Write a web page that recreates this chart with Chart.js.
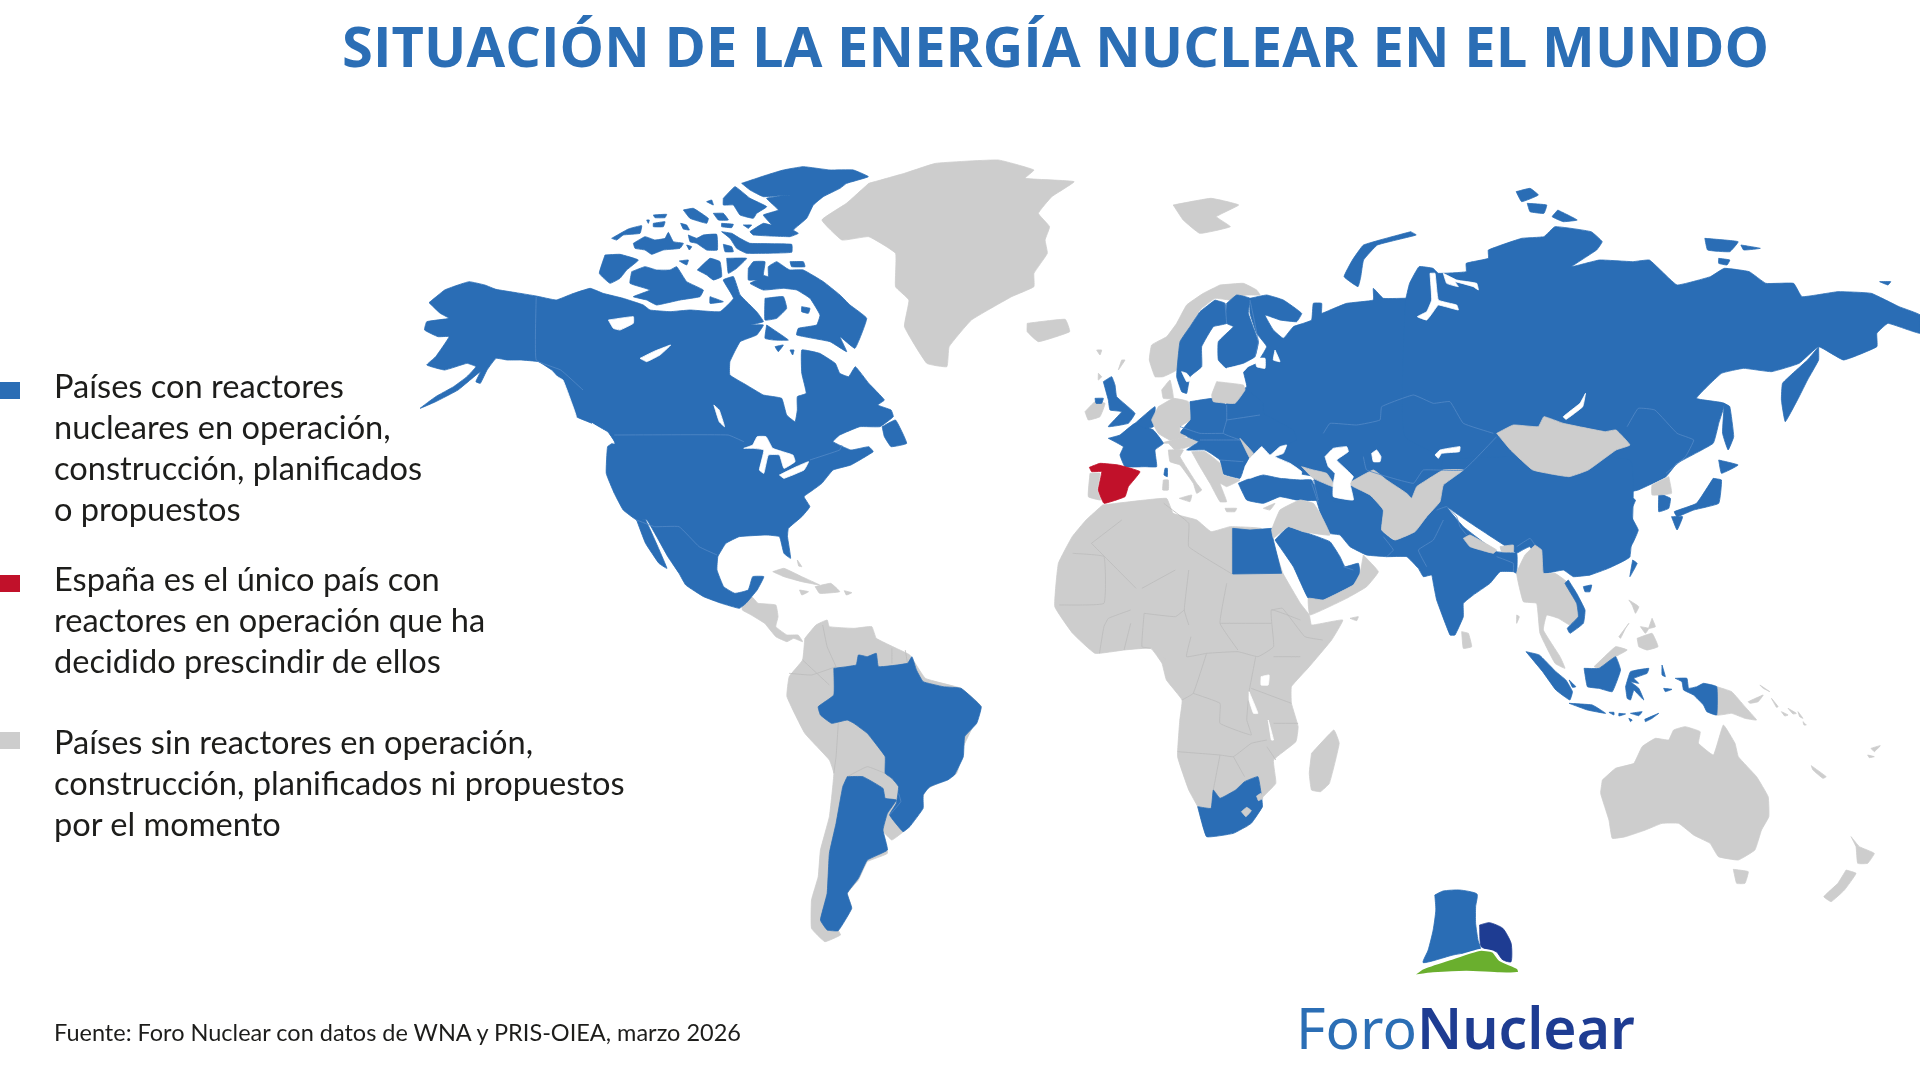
<!DOCTYPE html>
<html lang="es">
<head>
<meta charset="utf-8">
<title>Situación de la energía nuclear en el mundo</title>
<script src="https://cdn.jsdelivr.net/npm/chart.js@4"></script>
<style>
  html, body { margin: 0; background: #fff; }
  #page { position: relative; width: 1920px; height: 1080px; overflow: hidden; filter: blur(0.5px); }
  canvas { position: absolute; left: 0; top: 0; }
  .txt { position: absolute; white-space: nowrap; color: #1d1d1b; }
  h1 { position: absolute; margin: 0; left: 342px; top: 7px; font: 700 56px "Open Sans"; color: #2b6eb5; white-space: nowrap; letter-spacing: 0.08px; }
  .legend { left: 54px; font: 32.6px/41px Lato; }
  .swatch { position: absolute; left: 0; width: 20px; height: 17px; }
  #source { left: 54px; top: 1017px; font: 23.5px/30px Lato; }
  #logo { position: absolute; left: 1296px; top: 989px; font: 57px/76px "Noto Sans"; color: #2b6eb5; white-space: nowrap; }
  #logo b { color: #1e3c92; font-weight: 600; }
</style>
</head>
<body>
<div id="page">
  <canvas id="map" width="1920" height="1080"></canvas>
  <h1>SITUACIÓN DE LA ENERGÍA NUCLEAR EN EL MUNDO</h1>
  <div class="swatch" style="top:382px;background:#2a6db5"></div>
  <div class="txt legend" style="top:365px">Países con reactores<br>nucleares en operación,<br>construcción, planificados<br>o propuestos</div>
  <div class="swatch" style="top:575px;background:#c1112a"></div>
  <div class="txt legend" style="top:558px">España es el único país con<br>reactores en operación que ha<br>decidido prescindir de ellos</div>
  <div class="swatch" style="top:732px;background:#cdcdcd"></div>
  <div class="txt legend" style="top:721px">Países sin reactores en operación,<br>construcción, planificados ni propuestos<br>por el momento</div>
  <div class="txt" id="source">Fuente: Foro Nuclear con datos de WNA y PRIS-OIEA, marzo 2026</div>
  <div id="logo">Foro<b>Nuclear</b></div>
</div>
<script>
// outlines, flat x,y lists. each list is in the units of the crop it was read from

// north america crop
const northAmerica = [65,488,100,450,130,435,155,425,190,435,215,448,260,458,305,468,350,480,385,462,426,445,455,460,500,475,545,495,560,510,605,515,650,510,717,515,747,475,724,420,747,410,762,465,799,515,814,545,784,555,814,555,799,585,762,605,739,665,739,705,776,735,814,765,855,775,866,825,885,845,890,810,890,770,910,760,900,700,900,630,940,640,975,670,985,700,1005,710,1020,680,1050,730,1085,780,1070,795,1100,810,1105,830,1075,860,1030,860,985,885,970,905,1010,930,1050,920,1060,935,1010,975,970,990,945,1030,925,1050,905,1070,918,1100,900,1130,870,1165,868,1190,875,1255,860,1240,850,1190,820,1185,760,1190,730,1210,712,1250,710,1290,725,1340,750,1360,780,1350,790,1310,815,1310,800,1350,775,1390,760,1405,720,1390,680,1370,640,1335,625,1300,600,1250,575,1190,553,1140,530,1140,500,1110,480,1060,462,1000,465,920,480,905,465,875,430,850,395,830,380,790,360,720,340,690,310,665,270,660,240,660,215,655,195,690,180,730,170,725,180,695,130,750,80,785,45,805,80,770,120,740,150,710,170,680,150,670,100,690,60,675,80,650,110,590,85,590,55,570,60,545,110,535,90,520];
const baja = [530,1140,550,1140,598,1285,580,1270,550,1210];
const newfoundland = [1080,860,1110,840,1135,910,1100,920,1085,890];
const greenland = [1050,130,1130,100,1200,70,1340,60,1420,90,1400,115,1510,125,1460,170,1430,220,1455,260,1445,300,1450,340,1420,400,1420,440,1370,470,1280,540,1230,620,1225,680,1180,670,1130,560,1140,480,1110,440,1110,340,1050,290,990,300,945,240,1000,190];
const iceland = [1405,550,1490,538,1500,575,1430,605,1405,575];
const cuba = [835,1295,860,1285,900,1310,940,1335,900,1325,860,1310];
const hispaniola = [930,1340,965,1330,985,1355,940,1360];
const puertoRico = [995,1352,1012,1358,1000,1365];
const jamaica = [895,1350,915,1355,900,1365];
const bahamas = [890,1260,900,1280,893,1278];
const winnipeg = [703,795,715,810,727,860,715,845];
const upperLakes = [770,925,790,915,800,890,820,890,835,925,880,945,885,965,860,985,850,945,825,945,815,1000,805,990,815,930,790,925];
const lowerLakes = [850,1005,880,985,915,965,905,990,860,1015];
const bcChannel = [345,705,365,720,385,790,395,830,385,830,370,775,355,730];
const puget = [430,850,465,880,480,910,470,905,445,870];
const canadaUsaBorder = [480,885,735,885,770,905];
const alaskaBorder = [305,470,305,660,360,690,410,750];
const mexicoBorder = [530,1140,570,1160,625,1160,670,1220,710,1245];
const quebecBorder = [918,960,985,930,990,915];

// arctic crop
const ellesmere = [455,85,530,60,580,45,640,35,720,45,790,45,835,65,770,85,750,100,700,125,670,150,650,190,610,225,625,235,600,245,490,240,480,230,520,205,545,210,520,180,565,165,530,130,600,120,520,125,480,105];
const axelHeiberg = [400,130,435,95,480,130,530,155,500,175,490,190,450,180,430,150,400,150];
const amundRingnes = [280,165,310,160,355,190,350,205,300,190];
const ellefRingnes = [370,175,400,175,415,195,385,195];
const meighen = [350,140,365,135,370,150];
const grahamIsle = [395,205,430,208,425,218,395,215];
const coburg = [460,210,485,210,475,220];
const borden = [190,180,230,178,225,188,195,188];
const mackenzieKing = [190,205,225,200,220,215,190,215];
const brock = [170,195,178,195,175,205];
const lougheed = [272,205,290,210,298,225,280,222];
const melville = [130,265,165,245,195,255,225,250,235,232,250,260,280,265,270,280,220,285,185,298,165,285,135,280];
const patrick = [65,250,115,222,155,212,150,235,100,240,80,255];
const bathurst = [295,240,320,250,340,240,380,238,382,285,350,285,320,265,300,260];
const byam = [290,270,305,275,298,285];
const cornwallis = [400,268,425,275,430,290,405,290];
const devon = [395,230,425,235,450,250,480,265,605,268,605,292,470,295,440,280,420,250];
const banks = [45,300,90,298,145,315,110,345,90,370,60,385,28,355];
const victoria = [125,350,165,335,200,345,240,345,260,335,290,380,340,405,330,425,270,435,200,450,170,435,130,425,180,405,120,385];
const stefansson = [268,318,295,315,290,330];
const kingWilliam = [360,425,400,440,360,445];
const princeOfWales = [322,345,360,310,390,320,395,365,370,375,350,360];
const somerset = [410,310,470,310,440,340,415,355];
const baffin = [475,340,490,320,525,320,520,360,535,365,535,335,560,320,590,340,600,345,640,345,700,380,750,420,780,450,830,490,795,580,750,545,770,590,720,560,620,540,625,520,680,510,690,480,660,430,620,405,580,400,520,405,480,385,500,375,475,375];
const bylot = [600,320,640,320,645,335,605,335];
const foxeIsle = [635,455,660,460,655,475,635,470];
const melvillePen = [525,430,580,425,590,460,560,490,525,495];
const southampton = [530,510,595,555,550,555,525,550];
const coats = [555,575,580,570,565,590];
const mansel = [600,585,612,585,608,600];
const greatBear = [55,495,130,485,130,505,90,525,70,520];
const greatSlave = [150,610,190,590,242,570,210,600,170,620];

// south america and africa crop
const centralAmerica = [50,130,60,100,75,115,85,130,125,135,130,170,125,200,150,225,175,225,185,245,165,235,150,245,125,230,100,190,70,165,50,150];
const southAmerica = [190,235,215,195,240,180,245,200,300,205,340,200,350,235,395,265,425,285,460,355,540,385,585,440,545,560,530,640,460,690,450,740,415,810,385,840,365,815,375,880,330,905,310,960,285,1000,295,1045,265,1110,270,1125,235,1145,205,1105,205,1020,220,950,225,870,245,770,255,640,245,600,190,520,150,410,155,350,185,300];
const brazil = [255,325,305,315,310,285,330,290,350,280,355,320,420,310,430,290,440,330,455,365,500,380,540,385,585,440,575,490,548,530,545,590,525,645,510,660,470,680,455,705,455,745,425,800,410,815,380,765,395,730,400,680,385,655,370,640,370,590,345,545,330,520,300,490,285,480,250,490,225,465,220,440,255,405];
const argentina = [285,650,320,650,365,685,370,715,395,720,375,760,365,810,375,870,330,900,310,955,285,1000,295,1045,265,1112,240,1110,225,1080,240,1000,245,880,260,790,275,680];
const africa = [857,-165,1000,-185,1015,-140,1068,-120,1100,-85,1143,-100,1211,-95,1236,-60,1261,40,1300,130,1320,165,1325,195,1395,180,1370,240,1320,320,1280,380,1280,430,1295,500,1290,545,1240,600,1245,670,1210,720,1215,740,1180,800,1120,825,1090,825,1070,740,1050,690,1025,590,1030,480,1035,420,1000,360,990,310,965,265,905,270,840,280,790,220,750,140,758,10,789,-70,820,-120];
const southAfrica = [1070,740,1100,745,1105,690,1120,715,1155,690,1175,665,1205,650,1212,700,1215,740,1190,790,1150,820,1090,830];
const lesotho = [1168,755,1180,742,1190,752,1178,770];
const eswatini = [1202,708,1212,700,1216,715,1206,722];
const madagascar = [1325,580,1375,510,1387,550,1365,670,1345,695,1325,690,1320,640];
const lakeVictoria = [1212,350,1230,345,1228,375,1212,375];
const tanganyika = [1185,395,1205,460,1195,460,1185,420];
const malawi = [1228,480,1240,540,1235,540];
const bioko = [988,295,998,295,995,305];
const africaBorders = [
  [790,-20,860,-10,860,130,760,135], [945,85,1020,30], [1050,30,1040,150,1050,195], [1135,70,1120,190,1160,270],
  [950,160,1020,170,1040,150], [920,150,870,175,860,200,850,280], [920,190,905,270], [950,160,945,260,965,265],
  [1055,230,1045,290,1090,280,1160,275,1205,290,1240,260,1235,150,1300,180], [1235,150,1260,145,1310,230,1350,240],
  [1300,290,1240,290], [1120,190,1235,190], [1090,280,1060,400,1035,420], [1060,400,1120,430,1120,490,1190,525,1180,480,1185,395],
  [1200,290,1185,395], [1190,385,1280,430], [1025,575,1120,585,1150,590,1190,550,1225,540], [1120,585,1105,690],
  [1150,590,1175,650], [1240,490,1295,490], [1225,560,1245,600], [832,-50,900,-120], [832,-50,932,85],
  [994,-170,1050,-110,1050,-40,1147,42], [1147,-95,1147,42]
];
const andesBorders = [
  [260,320,205,345,155,340], [185,300,245,375], [230,195,240,260,260,320], [385,265,385,310], [415,270,420,310],
  [265,490,260,590,255,640], [285,650,330,620,370,640]
];
const argentinaBrazilLine = [400,700,405,725,380,765];

// asia crop
const russiaEast = [640,395,648,340,665,290,690,295,700,310,750,305,750,280,790,265,790,240,850,205,890,200,910,170,975,185,995,215,985,240,940,290,990,270,1050,275,1080,270,1100,300,1130,345,1190,320,1215,295,1260,305,1290,340,1340,340,1355,380,1420,365,1480,370,1530,410,1568,435,1568,490,1510,460,1490,490,1490,530,1430,570,1385,530,1350,580,1300,605,1250,595,1210,610,1165,685,1215,700,1205,760,1195,820,1130,880,1110,920,1060,960,1035,970,1055,990,1045,1030,1060,1080,1050,1120,1030,1175,1000,1190,970,1215,900,1000,640,800];
const novayaZemlya = [650,185,660,195,590,225,565,270,560,320,555,350,530,320,545,270,565,225];
const severnayaA = [840,65,865,55,880,75,850,95];
const severnayaB = [860,100,895,105,890,130,865,125];
const severnayaC = [915,120,950,150,925,155,905,140];
const newSiberiaA = [1180,205,1240,215,1225,245,1185,240];
const newSiberiaB = [1245,225,1280,235,1250,240];
const newSiberiaC = [1205,265,1225,270,1220,285,1205,280];
const wrangel = [1495,335,1515,335,1510,345];
const sakhalin = [1215,700,1225,710,1232,800,1222,840,1212,790];
const kamchatka = [1385,530,1385,570,1365,630,1350,680,1325,755,1318,690,1320,640,1345,600,1365,570];
const hokkaido = [1205,870,1240,885,1210,910];
const honshu = [1195,925,1210,930,1205,1000,1160,1020,1130,1040,1125,1025,1165,1000];
const kyushu = [1120,1040,1140,1040,1130,1080];
const southKorea = [1097,970,1118,985,1115,1015,1097,1025];
const taiwan = [1050,1170,1058,1180,1045,1220];
const svalbard = [222,105,290,85,340,105,300,140,325,170,270,190,240,150];
const mongolia = [805,790,835,765,880,770,890,740,925,760,1000,785,1020,780,1045,825,1020,840,970,900,935,920,870,900,830,840];
const northKorea = [1115,920,1085,945,1085,975,1120,970];
const baikal = [965,670,960,710,930,748,925,740,955,700];
const russiaBorder = [1040,770,1060,715,1090,720,1130,790,1160,810,1145,860,1110,910];

// europe crop
const russiaWest = [510,85,560,75,610,90,665,130,650,155,600,150,555,135,580,180,610,205,640,170,670,160,695,150,700,100,725,100,725,130,750,120,800,100,880,90,880,55,910,85,990,85,1010,100,1260,100,1260,700,720,700,700,620,650,610,480,550,430,500,440,400,500,350,490,300,530,280,560,230,530,190,510,130];
const sweden = [405,90,435,100,440,160,400,170,365,230,365,290,330,320,320,370,305,365,290,320,300,215,330,170,360,125];
const finland = [440,100,470,75,510,85,505,130,535,215,525,260,490,280,440,295,415,270,415,215,460,170,440,160];
const easternEurope = [330,395,400,385,445,405,500,360,550,400,550,430,640,480,650,510,600,530,560,540,510,560,490,600,480,625,430,612,420,570,375,540,320,540,355,515,300,490,330,450];
const france = [85,505,120,495,165,460,220,480,250,520,225,540,230,590,195,590,135,590,120,555,130,530];
const benelux = [165,460,225,410,220,470,195,475];
const corsica = [255,595,262,595,262,620,252,615];
const britain = [70,335,95,320,105,345,110,380,165,430,145,460,85,470,125,425,90,420,85,390];
const ulster = [45,385,70,385,65,400,48,400];
const turkey = [475,640,510,625,550,615,600,625,660,630,695,630,715,690,650,690,600,680,550,700,500,690];
const norway = [420,45,490,40,530,60,540,75,500,75,450,90,405,85,360,120,330,170,305,215,300,260,290,300,250,320,225,320,208,270,215,225,260,200,290,160,320,105,370,70];
const baltics = [410,335,490,345,495,360,465,400,400,395,395,375];
const germany = [235,410,280,385,325,395,330,450,300,470,300,490,320,500,270,510,235,490,215,450];
const denmark = [245,360,270,330,280,385,250,385];
const alps = [240,520,300,505,360,505,340,525,310,535,285,540,265,520];
const italy = [265,540,310,540,300,560,350,640,365,660,350,670,340,640,300,585,270,575];
const sicily = [298,685,335,675,330,695];
const sardinia = [250,630,265,630,265,660,248,660];
const balkans = [335,545,375,545,420,580,430,615,480,630,440,650,420,640,440,695,420,695,390,640,360,590];
const crete = [435,715,470,715,465,725,440,725];
const cyprus = [550,715,585,700,570,720];
const ireland = [15,425,45,395,75,400,60,440,25,450];
const shetland = [125,270,135,270,115,300];
const faroe = [50,240,65,240,60,255];
const hebrides = [55,310,65,320,55,330];
const moldova = [480,505,520,550,510,565];
const portugal = [30,610,60,610,52,660,62,690,25,680];
const caucasus = [665,590,700,600,740,610,760,640,760,650,745,645,700,625];
const spain = [28,592,60,580,115,585,180,605,145,650,135,680,72,700,55,660,65,605,35,605];
const caspian = [735,560,760,535,800,530,805,545,770,570,790,590,820,620,810,640,820,690,760,680,760,640,765,610,745,590];
const blackSea = [495,590,510,565,545,530,570,555,600,530,620,525,610,550,585,560,630,580,665,605,660,625,600,620,550,610,510,625,490,620];
const aral = [875,550,890,540,903,560,900,575,880,575];
const balkhash = [1065,555,1080,540,1140,530,1138,545,1085,550,1075,565];
const ladoga = [525,265,555,265,555,295,530,290];
const onega = [585,240,600,275,580,270];
const finnishGulf = [440,295,510,280,490,305,445,305];
const vanernLakes = [305,305,320,310,335,330,320,335];
const obGulf = [1050,10,1065,10,1075,90,1130,105,1135,120,1075,105,1060,125,1040,150,1012,140,1040,125,1055,90];
const yeniseiGulf = [1090,10,1130,30,1190,40,1195,60,1180,50,1125,35,1135,50,1100,40];
const europeBorders = [
  [730,490,750,460,830,465,900,450,905,410,1000,375,1060,400,1110,395,1150,460,1240,490], [850,560,860,600,1000,640,1030,600,1150,600,1250,500],
  [435,100,440,160], [510,90,535,215,525,260], [440,405,440,450,430,490,480,510], [440,450,540,435], [300,470,360,490,430,490],
  [360,510,420,510,480,510], [420,570,490,575], [700,630,715,690]
];

// south asia crop
const southAsia = [245,70,300,100,310,125,370,125,365,105,420,105,460,150,455,210,490,240,550,215,590,170,630,120,640,130,700,200,800,275,860,280,860,340,850,335,810,335,780,370,730,405,700,430,700,470,675,525,660,525,620,420,610,370,605,345,580,350,565,325,530,290,470,290,410,285,360,260,330,225,300,220,270,155];
const chinaSouth = [860,280,900,260,940,340,1000,330,1030,350,1080,345,1135,325,1200,290,1200,0,640,0,640,130];
const egypt = [8,205,60,210,125,205,130,240,155,340,8,342];
const saudiGulf = [135,240,175,200,220,215,300,245,330,290,345,320,385,310,390,345,370,375,280,420,235,415,190,320];
const omanYemen = [400,285,445,335,410,380,350,415,240,465,235,415,280,420,370,375,390,340];
const levantIraq = [130,235,125,210,150,150,210,120,250,130,270,160,300,225,220,215,175,200];
const centralAsiaGrey = [355,70,430,30,470,60,530,100,545,115,560,80,590,60,640,30,700,30,640,75,630,125,590,170,555,215,495,240,455,210,460,150,420,105,370,80];
const nepal = [700,235,720,225,800,270,790,280,720,260];
const bhutan = [810,260,850,255,850,275,815,275];
const indochina = [915,255,935,270,940,340,975,340,1010,365,1045,425,1050,470,1020,495,985,475,950,465,940,510,990,590,1005,625,975,610,930,520,920,430,880,425,860,340,885,285];
const vietnam = [1015,360,1040,400,1065,450,1060,490,1020,520,1012,505,1045,470,1040,430,1005,370];
const hainan = [1060,380,1085,375,1080,395,1065,395];
const sriLanka = [695,515,715,520,725,560,700,565];
const andaman = [860,465,868,470,860,490];
const socotra = [360,475,385,470,380,482];
const southAsiaBorders = [
  [620,150,650,140,680,170,690,200,710,225], [640,180,610,240,565,270,590,320], [460,230,490,270,470,290],
  [860,260,900,235,915,255], [800,290,850,310,850,335], [340,320,370,330], [245,70,265,130]
];

// oceania crop
const luzon = [690,0,720,20,710,40,700,15];
const mindanao = [715,115,760,100,778,140,745,150,720,140];
const visayasA = [725,80,750,85,740,100];
const visayasB = [760,55,770,80,750,85];
const palawan = [660,110,690,70,680,85,665,115];
const malaysianBorneo = [585,200,650,140,685,150,650,170,600,205];
const papua = [955,260,1000,275,1040,320,1075,360,1040,355,1000,340,955,345];
const newIreland = [1085,255,1115,275,1095,265];
const newBritain = [1050,305,1095,285,1080,305,1055,310];
const solomonA = [1120,295,1140,320,1135,322];
const solomonB = [1150,335,1170,345,1160,348];
const solomonC = [1170,325,1195,340,1185,342];
const solomonD = [1200,335,1215,355,1205,350];
const solomonE = [1215,365,1225,375,1218,375];
const australia = [610,540,650,505,705,490,730,440,770,415,810,420,825,390,860,380,905,395,900,430,945,465,975,375,1010,430,1020,470,1075,530,1110,590,1112,650,1090,690,1070,750,1020,780,960,770,935,730,905,715,885,705,840,670,790,670,740,690,680,710,640,715,630,660,605,580];
const tasmania = [1005,808,1050,815,1040,850,1015,850];
const nzNorth = [1360,710,1385,740,1430,760,1410,790,1380,790,1375,740];
const nzSouth = [1345,810,1375,820,1340,870,1300,905,1278,890,1320,850];
const newCaledonia = [1240,497,1285,530,1275,535,1245,510];
const fijiA = [1420,445,1448,437,1430,455];
const fijiB = [1410,465,1430,470,1415,473];
const sumatra = [380,155,420,165,470,215,500,240,520,275,512,300,470,270,430,215];
const bangka = [510,240,530,260,520,262];
const kalimantan = [555,205,600,205,650,170,665,210,640,275,600,265,565,260];
const java = [510,310,580,315,620,340,565,330];
const sundaA = [630,337,645,337,645,345];
const sundaB = [660,340,680,342,660,348];
const sundaC = [695,340,730,335,720,347];
const sundaD = [690,355,700,360,695,365];
const timor = [738,358,780,340,760,355,740,365];
const sulawesi = [680,260,695,215,750,205,745,220,705,235,720,250,695,245,720,265,735,300,715,280,705,270,695,300,685,295];
const moluccaA = [790,195,800,230,790,225];
const moluccaB = [795,265,820,268,800,275];
const westPapua = [830,235,865,235,870,265,895,260,915,250,955,260,955,345,925,335,915,315,885,285,855,270,850,245];
const logoTower = [105,885,130,873,180,870,232,882,228,920,228,970,235,1020,242,1048,160,1065,70,1088,85,1050,100,990,108,930];
const logoReactor = [240,975,270,968,310,985,335,1030,335,1085,310,1080,290,1055,245,1040];
const logoHill = [37,1128,70,1105,150,1078,240,1050,280,1055,300,1080,355,1105,358,1118,300,1120,200,1115,100,1120];

const BLUE = '#2a6db5', RED = '#c1112a', GREY = '#cdcdcd', WHITE = '#ffffff';
const BLUE_LINE = '#5389c6', GREY_LINE = '#bbbbbb';

// crops of the picture the outlines were read from: origin and stretch
const cropNA = { ox: 400, oy: 140, sx: 2.24, sy: 3 };
const cropArctic = { ox: 590, oy: 155, sx: 3, sy: 3 };
const cropAsia = { ox: 1050, oy: 170, sx: 1.802, sy: 3 };
const cropEurope = { ox: 1080, oy: 270, sx: 3, sy: 3 };
const cropSouthAsia = { ox: 1230, oy: 460, sx: 3, sy: 3 };
const cropSA = { ox: 720, oy: 560, sx: 2.24, sy: 3 };
const cropOC = { ox: 1400, oy: 600, sx: 3.015, sy: 3 };

function toPoints(list, crop) {
  const pts = [];
  for (let i = 0; i < list.length; i += 2) {
    pts.push({ x: crop.ox + list[i] / crop.sx, y: crop.oy + list[i + 1] / crop.sy });
  }
  return pts;
}

const datasets = [];

function addShapes(lists, crop, color, tension = 0.1) {
  lists.forEach(list => {
    const pts = toPoints(list, crop);
    pts.push(pts[0]);
    datasets.push({ data: pts, showLine: true, fill: 'shape', backgroundColor: color, borderColor: color, borderWidth: 0.8, pointRadius: 0, tension });
  });
}

function addLines(lists, crop, color) {
  lists.forEach(list => {
    datasets.push({ data: toPoints(list, crop), showLine: true, fill: false, borderColor: color, borderWidth: 0.8, pointRadius: 0, tension: 0.1 });
  });
}

addShapes([greenland, iceland, cuba, hispaniola, puertoRico, jamaica, bahamas], cropNA, GREY);
addShapes([centralAmerica, southAmerica, africa, madagascar, bioko], cropSA, GREY);
addShapes([northAmerica, baja, newfoundland], cropNA, BLUE);
addShapes([ellesmere, axelHeiberg, amundRingnes, ellefRingnes, meighen, grahamIsle, coburg, borden, mackenzieKing, brock, lougheed, melville, patrick, bathurst, byam, cornwallis, devon, banks, victoria, stefansson, kingWilliam, princeOfWales, somerset, baffin, bylot, melvillePen, southampton, coats, mansel], cropArctic, BLUE);
addShapes([foxeIsle], cropArctic, BLUE);
addShapes([greatBear, greatSlave], cropArctic, WHITE);
addShapes([winnipeg, upperLakes, lowerLakes, bcChannel, puget], cropNA, WHITE);
addLines([canadaUsaBorder, alaskaBorder, mexicoBorder, quebecBorder], cropNA, BLUE_LINE);
addLines(africaBorders, cropSA, GREY_LINE);
addLines(andesBorders, cropSA, GREY_LINE);
addShapes([brazil, argentina, southAfrica], cropSA, BLUE);
addShapes([lesotho, eswatini], cropSA, GREY);
addShapes([lakeVictoria, tanganyika, malawi], cropSA, WHITE);
addLines([argentinaBrazilLine], cropSA, BLUE_LINE);

// eurasia: blue land first, then the grey countries and the inland waters on top
addShapes([norway, denmark, alps, italy, sicily, sardinia, crete, cyprus, ireland, shetland, faroe, hebrides, portugal], cropEurope, GREY);
addShapes([russiaWest, sweden, finland, easternEurope, france, benelux, corsica, britain, ulster, turkey], cropEurope, BLUE);
addShapes([svalbard], cropAsia, GREY);
addShapes([russiaEast, novayaZemlya, severnayaA, severnayaB, severnayaC, newSiberiaA, newSiberiaB, newSiberiaC, wrangel, sakhalin, kamchatka, hokkaido, honshu, kyushu, southKorea, taiwan], cropAsia, BLUE);
addShapes([chinaSouth, southAsia], cropSouthAsia, BLUE);
addShapes([egypt], cropSouthAsia, BLUE, 0);
addShapes([saudiGulf, hainan], cropSouthAsia, BLUE);
addShapes([germany, baltics, moldova, caucasus, balkans], cropEurope, GREY);
addShapes([omanYemen, levantIraq, centralAsiaGrey, nepal, bhutan, indochina, sriLanka, andaman, socotra], cropSouthAsia, GREY);
addShapes([vietnam], cropSouthAsia, BLUE);
addShapes([mongolia, northKorea], cropAsia, GREY);
addShapes([spain], cropEurope, RED);
addShapes([caspian, blackSea, aral, balkhash, ladoga, onega, finnishGulf, vanernLakes, obGulf, yeniseiGulf], cropEurope, WHITE);
addShapes([baikal], cropAsia, WHITE);
addLines(europeBorders, cropEurope, BLUE_LINE);
addLines(southAsiaBorders, cropSouthAsia, BLUE_LINE);
addLines([russiaBorder], cropAsia, BLUE_LINE);

addShapes([luzon, mindanao, visayasA, visayasB, palawan, malaysianBorneo, papua, newIreland, newBritain, solomonA, solomonB, solomonC, solomonD, solomonE, australia, tasmania, nzNorth, nzSouth, newCaledonia, fijiA, fijiB], cropOC, GREY);
addShapes([sumatra, bangka, kalimantan, java, sundaA, sundaB, sundaC, sundaD, timor, sulawesi, moluccaA, moluccaB, westPapua], cropOC, BLUE);

addShapes([logoTower], cropOC, BLUE, 0.2);
addShapes([logoReactor], cropOC, '#1e3c92', 0.2);
addShapes([logoHill], cropOC, '#6aaf2e', 0.2);
// thin white edge between the hill and the towers
datasets[datasets.length - 1].borderColor = WHITE;
datasets[datasets.length - 1].borderWidth = 2;

// chart.js paints the first dataset last, the list above is in paint order
datasets.reverse();

new Chart(document.getElementById('map'), {
  type: 'scatter',
  data: { datasets },
  options: {
    responsive: false,
    animation: false,
    events: [],
    layout: { padding: 0 },
    plugins: { legend: { display: false }, tooltip: { enabled: false } },
    scales: {
      x: { type: 'linear', min: 0, max: 1920, display: false },
      y: { type: 'linear', min: 0, max: 1080, reverse: true, display: false }
    }
  }
});
</script>
</body>
</html>
